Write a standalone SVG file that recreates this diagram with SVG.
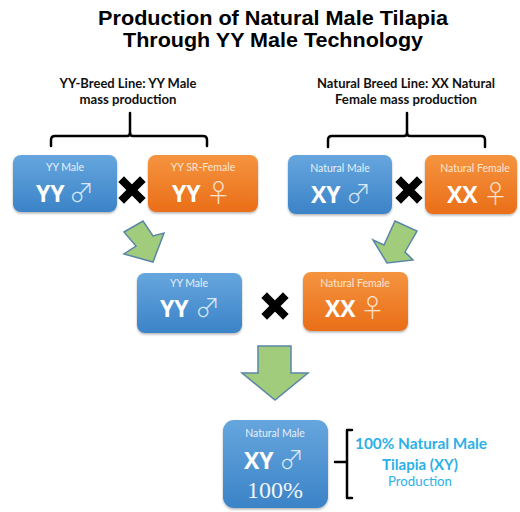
<svg xmlns="http://www.w3.org/2000/svg" width="520" height="512" viewBox="0 0 520 512">
<defs>
<linearGradient id="gb" x1="0" y1="0" x2="0" y2="1"><stop offset="0" stop-color="#66a6de"/><stop offset="1" stop-color="#3b83c7"/></linearGradient>
<linearGradient id="go" x1="0" y1="0" x2="0" y2="1"><stop offset="0" stop-color="#f5943f"/><stop offset="1" stop-color="#ea6e19"/></linearGradient>
<filter id="sh" x="-10%" y="-10%" width="120%" height="130%"><feDropShadow dx="0" dy="1.5" stdDeviation="1.2" flood-color="#000" flood-opacity="0.3"/></filter>
</defs>
<style>
.title{font-family:"Liberation Sans",Arial,sans-serif;font-weight:bold;font-size:19.5px;fill:#000;text-anchor:middle}
.lbl{font-family:Lato,"Open Sans",sans-serif;font-weight:bold;font-size:12.5px;fill:#111;text-anchor:middle}
.br{fill:none;stroke:#000;stroke-width:2.5;stroke-linecap:round;stroke-linejoin:round}
.bb{fill:url(#gb);filter:url(#sh)}
.bo{fill:url(#go);filter:url(#sh)}
.sm{font-family:Lato,"Open Sans",sans-serif;font-size:10.5px;fill:#e6f0fa;text-anchor:middle}
.smo{font-family:Lato,"Open Sans",sans-serif;font-size:10.5px;fill:#fde6d3;text-anchor:middle}
.big{font-family:"Open Sans",Lato,sans-serif;font-weight:bold;font-size:23px;fill:#fff}
.sym{font-family:"Noto Sans CJK JP","DejaVu Sans",sans-serif;font-weight:300;font-size:25px;fill:#d8e8f6}
.symo{font-family:"Noto Sans CJK JP","DejaVu Sans",sans-serif;font-weight:300;font-size:25px;fill:#fde3cf}
.arr{fill:#a0cc7c;stroke:#5a86a6;stroke-width:1.5;stroke-linejoin:miter}
.x{stroke:#000;stroke-width:8;stroke-linecap:square}
.res{font-family:Lato,"Open Sans",sans-serif;font-weight:bold;font-size:15px;fill:#2cb0e8;text-anchor:middle}
.res2{font-family:Lato,"Open Sans",sans-serif;font-size:13px;fill:#2cb0e8;text-anchor:middle}
</style>
<text class="title" x="273" y="24.5" textLength="350" lengthAdjust="spacingAndGlyphs">Production of Natural Male Tilapia</text>
<text class="title" x="273" y="46.5" textLength="300" lengthAdjust="spacingAndGlyphs">Through YY Male Technology</text>

<g id="label-yy-line">
<text class="lbl" x="128" y="88" textLength="137" lengthAdjust="spacingAndGlyphs">YY-Breed Line: YY Male</text>
<text class="lbl" x="128" y="104" textLength="97" lengthAdjust="spacingAndGlyphs">mass production</text>
</g>
<g id="label-natural-line">
<text class="lbl" x="406" y="88" textLength="178" lengthAdjust="spacingAndGlyphs">Natural Breed Line: XX Natural</text>
<text class="lbl" x="406" y="104" textLength="142" lengthAdjust="spacingAndGlyphs">Female mass production</text>
</g>

<g id="connectors">
<path class="br" d="M130 113 V133 Q130 136 127 136 H55 Q51 136 51 140 V146"/>
<path class="br" d="M130 133 Q130 136 133 136 H203 Q207 136 207 140 V146"/>
<path class="br" d="M407 113 V133 Q407 136 404 136 H332 Q328 136 328 140 V147"/>
<path class="br" d="M407 133 Q407 136 410 136 H481 Q485 136 485 140 V147"/>
<path class="arr" d="M124 232 L143 221 L153 236 L164 233 L153 262 L124 254 L136 246 Z"/>
<path class="arr" d="M395 221 L417 231 L405 252 L413 260 L387 263 L373 240 L384 245 Z"/>
<path class="arr" d="M258 346 H291 V373 H308 L275 400 L242 373 H258 Z"/>
<path class="x" d="M124 182 L140 198 M140 182 L124 198"/>
<path class="x" d="M401 182 L417 198 M417 182 L401 198"/>
<path class="x" d="M267 298 L283 314 M283 298 L267 314"/>
<path class="br" d="M352 430 H347 V498 H352 M335 462 H347" stroke-width="1.5"/>
</g>

<g id="yy-male-1">
<rect class="bb" x="13" y="155" width="104" height="57" rx="8"/>
<text class="sm" x="65" y="171">YY Male</text>
<text class="big" x="36" y="202">YY</text>
<text class="sym" x="69" y="202">♂</text>
</g>
<g id="yy-sr-female">
<rect class="bo" x="148" y="155" width="110" height="57" rx="8"/>
<text class="smo" x="203" y="171">YY SR-Female</text>
<text class="big" x="172" y="202">YY</text>
<text class="symo" x="206" y="202">♀</text>
</g>
<g id="natural-male-1">
<rect class="bb" x="288" y="155" width="104" height="59" rx="8"/>
<text class="sm" x="340" y="172">Natural Male</text>
<text class="big" x="311" y="203">XY</text>
<text class="sym" x="346" y="203">♂</text>
</g>
<g id="natural-female-1">
<rect class="bo" x="425" y="155" width="92" height="59" rx="8"/>
<text class="smo" x="475" y="172">Natural Female</text>
<text class="big" x="447" y="203">XX</text>
<text class="symo" x="483" y="203">♀</text>
</g>
<g id="yy-male-2">
<rect class="bb" x="137" y="273" width="105" height="60" rx="8"/>
<text class="sm" x="189" y="287">YY Male</text>
<text class="big" x="160" y="317">YY</text>
<text class="sym" x="195" y="317">♂</text>
</g>
<g id="natural-female-2">
<rect class="bo" x="303" y="272" width="105" height="59" rx="8"/>
<text class="smo" x="355" y="287">Natural Female</text>
<text class="big" x="325" y="317">XX</text>
<text class="symo" x="360" y="317">♀</text>
</g>
<g id="natural-male-result">
<rect class="bb" x="223" y="420" width="105" height="88" rx="11"/>
<text class="sm" x="275" y="437">Natural Male</text>
<text class="big" x="244" y="469">XY</text>
<text class="sym" x="279" y="469">♂</text>
<text x="275" y="498" font-family="'Liberation Serif',serif" font-size="24" fill="#eef5fc" text-anchor="middle">100%</text>
</g>
<g id="result-text">
<text class="res" x="421" y="449" textLength="132" lengthAdjust="spacingAndGlyphs">100% Natural Male</text>
<text class="res" x="420" y="470" textLength="76" lengthAdjust="spacingAndGlyphs">Tilapia (XY)</text>
<text class="res2" x="420" y="486" textLength="64" lengthAdjust="spacingAndGlyphs">Production</text>
</g>
</svg>
